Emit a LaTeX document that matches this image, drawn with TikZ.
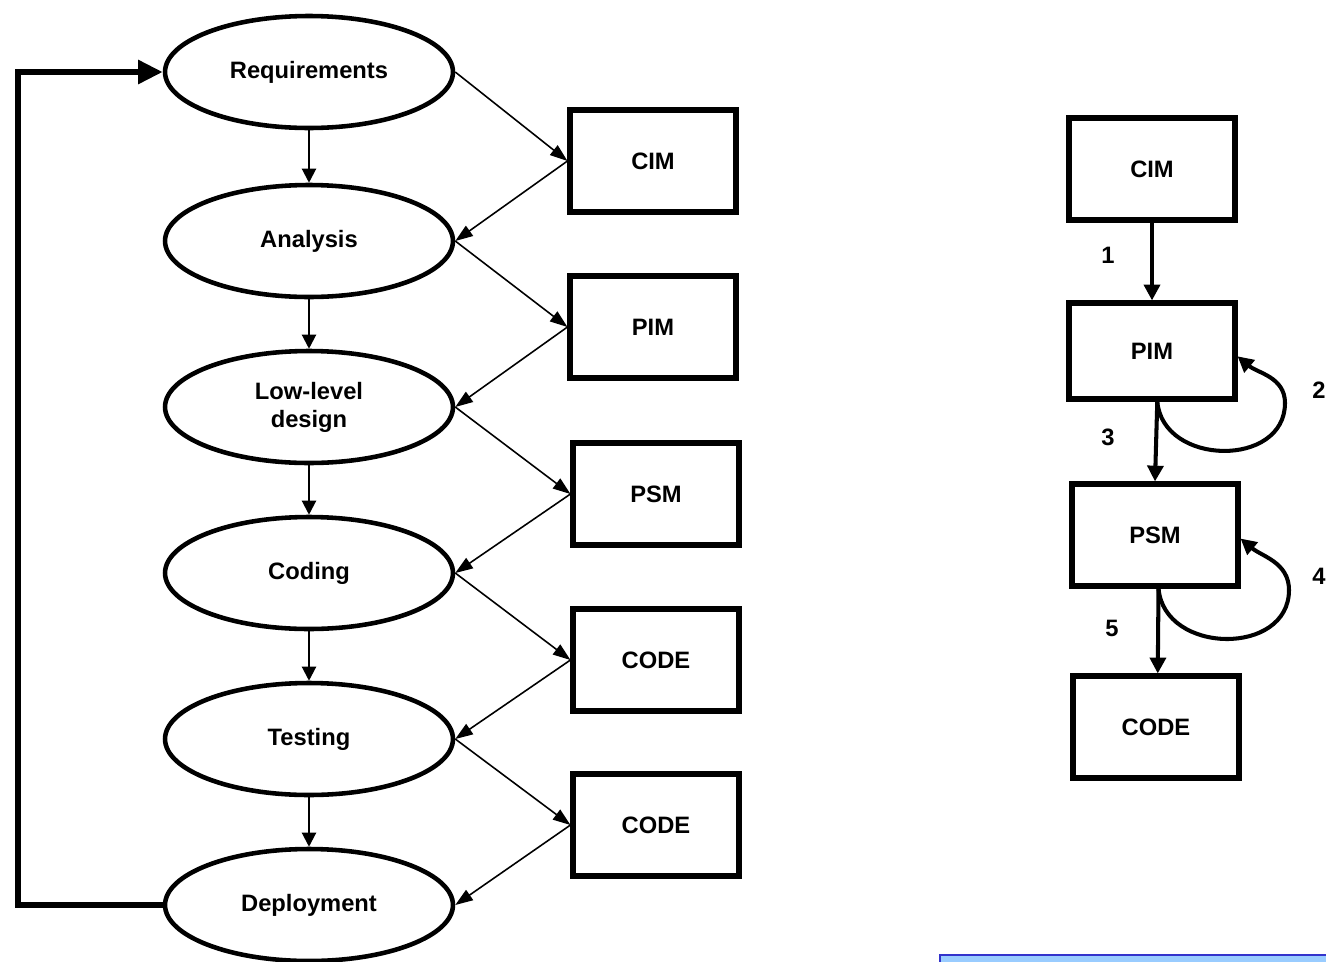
\documentclass[tikz,border=0pt]{standalone}
\usepackage{fontspec}
\setmainfont{Liberation Sans}
\usetikzlibrary{arrows.meta,shapes.geometric}
\definecolor{panelfill}{HTML}{99CCFF}
\definecolor{panelline}{HTML}{3333CC}

\begin{document}
\begin{tikzpicture}[x=0.02cm,y=-0.02cm,
  labelfont/.style={font=\bfseries\fontsize{13.5}{16}\selectfont},
  phase/.style={ellipse,draw,line width=2.6pt,minimum width=5.76cm,minimum height=2.24cm,
    inner sep=0pt,align=center,labelfont},
  model/.style={rectangle,draw,line width=2.9pt,minimum width=3.32cm,minimum height=2.04cm,
    inner sep=0pt,labelfont},
  flow/.style={line width=0.9pt,-{Triangle[length=10pt,width=7pt]}},
  next/.style={line width=1.2pt,-{Triangle[length=8pt,width=8pt]}},
  back/.style={line width=3.4pt,-{Triangle[length=14pt,width=13pt]}},
  trans/.style={line width=2.3pt,-{Triangle[length=9pt,width=9pt]}},
  num/.style={labelfont,inner sep=0pt}]
\useasboundingbox (0,0) rectangle (1326,961);

% development phases
\node[phase] (req) at (309,72)  {Requirements};
\node[phase] (ana) at (309,241) {Analysis};
\node[phase] (low) at (309,407) {Low-level\\design};
\node[phase] (cod) at (309,573) {Coding};
\node[phase] (tes) at (309,739) {Testing};
\node[phase] (dep) at (309,905) {Deployment};

% models produced along the phases
\node[model] (m1) at (653,161) {CIM};
\node[model] (m2) at (653,327) {PIM};
\node[model] (m3) at (656,494) {PSM};
\node[model] (m4) at (656,660) {CODE};
\node[model] (m5) at (656,825) {CODE};

\foreach \a/\b in {req/ana,ana/low,low/cod,cod/tes,tes/dep}
  \draw[next] (\a.south) -- (\b.north);

\foreach \p/\m/\q in {req/m1/ana,ana/m2/low,low/m3/cod,cod/m4/tes,tes/m5/dep}{
  \draw[flow] (\p.east) -- (\m.west);
  \draw[flow] (\m.west) -- (\q.east);
}

% iteration back to requirements
\draw[back] (dep.west) -- ++(-145,0) |- (req.west);

% model transformations
\node[model] (c) at (1152,169) {CIM};
\node[model,minimum height=1.92cm] (p) at (1152,351) {PIM};
\node[model] (s) at (1155,535) {PSM};
\node[model] (k) at (1156,727) {CODE};

\draw[trans] (c.south) -- (p.north);
\draw[trans] ([xshift=3]p.south) -- (s.north);
\draw[trans] ([xshift=2]s.south) -- ([xshift=1]k.north);

\draw[trans] ([xshift=3]p.south) to[out=-85,in=-90,looseness=1.3] (1285,403)
  to[out=90,in=-40] ([yshift=-3]p.east);
\draw[trans] ([xshift=2]s.south) to[out=-85,in=-90,looseness=1.3] (1289,590)
  to[out=90,in=-40] ([yshift=-2]s.east);

\node[num] (n1) at (1108,255) {1};
\node[num] (n2) at (1319,390) {2};
\node[num] (n3) at (1108,437) {3};
\node[num] (n4) at (1319,576) {4};
\node[num] (n5) at (1112,628) {5};

% panel at the lower right
\draw[fill=panelfill,draw=panelline,line width=1.2pt] (940,955) rectangle (1340,990);
\end{tikzpicture}
\end{document}
